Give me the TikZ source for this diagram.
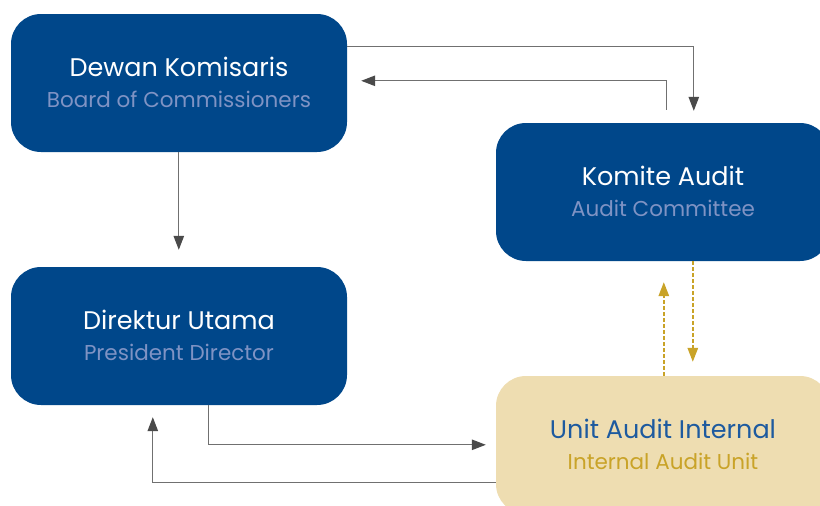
\documentclass[tikz,border=0pt]{standalone}
\usepackage{fontspec}
\setmainfont{Poppins}
\usetikzlibrary{arrows.meta,calc}
\definecolor{boxblue}{HTML}{00478A}
\definecolor{boxtan}{HTML}{EEDDB1}
\definecolor{subblue}{HTML}{7F93C4}
\definecolor{titleblue}{HTML}{1D5A9F}
\definecolor{gold}{HTML}{C9A328}
\definecolor{linegray}{HTML}{707070}
\definecolor{headgray}{HTML}{4A4A4A}
\tikzset{
  orgbox/.style={rounded corners=30pt, minimum width=336pt, minimum height=138pt, inner sep=0pt, draw=none},
  bluebox/.style={orgbox, fill=boxblue},
  tanbox/.style={orgbox, fill=boxtan},
  titletext/.style={anchor=base, inner sep=0pt, font=\fontsize{25.5}{30}\selectfont},
  subtext/.style={anchor=base, inner sep=0pt, font=\fontsize{21.5}{25}\selectfont},
  conn/.style={draw=linegray, line width=1.1pt, -{Triangle[length=14pt,width=10.5pt,fill=headgray,color=headgray]}},
  dconn/.style={draw=gold, line width=1.5pt, dash pattern=on 3.5pt off 2.5pt, -{Triangle[length=14pt,width=10.5pt,fill=gold,color=gold]}}
}
\begin{document}
\begin{tikzpicture}[x=1pt,y=-1pt]
\useasboundingbox (0,0) rectangle (820,506);
\clip (0,0) rectangle (820,506);
\node[bluebox] (dk) at (179,83) {};
\node[bluebox, minimum width=334pt] (ka) at (663,192) {};
\node[bluebox] (du) at (179,336) {};
\node[tanbox, minimum width=334pt] (uai) at (663,445) {};

\node[titletext, text=white] (dkt) at ($(dk.center)+(0,-7)$) {Dewan Komisaris};
\node[subtext, text=subblue] (dks) at ($(dk.center)+(0,24)$) {Board of Commissioners};
\node[titletext, text=white] (kat) at ($(ka.center)+(0,-7)$) {Komite Audit};
\node[subtext, text=subblue] (kas) at ($(ka.center)+(0,24)$) {Audit Committee};
\node[titletext, text=white] (dut) at ($(du.center)+(0,-7)$) {Direktur Utama};
\node[subtext, text=subblue] (dus) at ($(du.center)+(0,24)$) {President Director};
\node[titletext, text=titleblue] (uait) at ($(uai.center)+(0,-7)$) {Unit Audit Internal};
\node[subtext, text=gold] (uais) at ($(uai.center)+(0,24)$) {Internal Audit Unit};

% DK -> KA
\coordinate (a1) at ($(dk.north east)+(0,33)$);
\coordinate (a1e) at ($(ka.north west)+(198,-12)$);
\draw[conn] (a1) -| (a1e);
% KA -> DK
\coordinate (a2s) at ($(ka.north west)+(171,-13)$);
\coordinate (a2e) at ($(dk.north east)+(14,67)$);
\draw[conn] (a2s) |- (a2e);
% DK -> DU
\coordinate (a3e) at ($(du.north west)+(168,-17)$);
\draw[conn] (dk.south -| a3e) -- (a3e);
% UAI -> KA dashed
\coordinate (a4e) at ($(ka.south west)+(168,21)$);
\draw[dconn] (uai.north -| a4e) -- (a4e);
% KA -> UAI dashed
\coordinate (a5e) at ($(uai.north west)+(197,-14)$);
\draw[dconn] (ka.south -| a5e) -- (a5e);
% DU -> UAI
\coordinate (a6s) at ($(du.south west)+(198,0)$);
\coordinate (a6e) at ($(uai.north west)+(-10,69)$);
\draw[conn] (a6s) |- (a6e);
% UAI -> DU
\coordinate (a7s) at ($(uai.north west)+(0,107)$);
\coordinate (a7e) at ($(du.south west)+(142,12)$);
\draw[conn] (a7s) -| (a7e);
\end{tikzpicture}
\end{document}
